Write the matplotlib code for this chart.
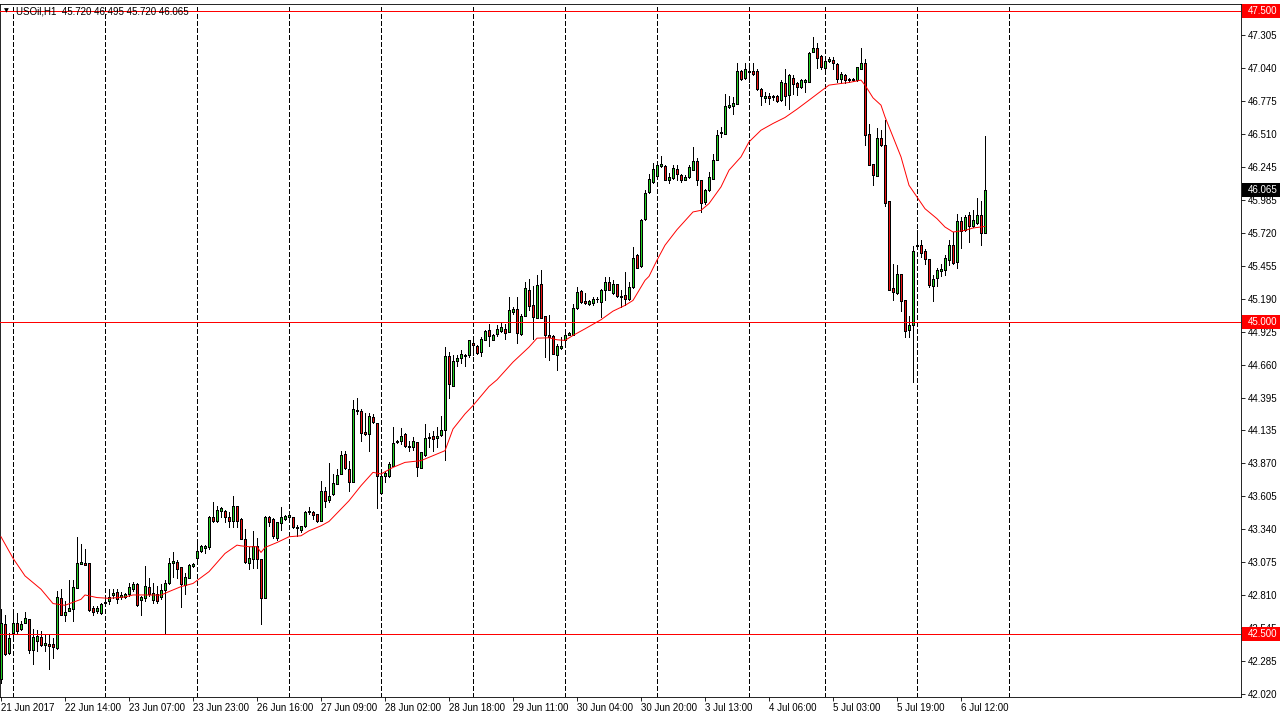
import matplotlib
matplotlib.use("Agg")
import matplotlib.pyplot as plt
from matplotlib.patches import Rectangle
from matplotlib.transforms import blended_transform_factory
import numpy as np

plt.rcParams['font.family'] = ['Liberation Sans', 'DejaVu Sans']

symbol = "USOil,H1"

opens = [
    42.135, 42.577, 42.344, 42.505, 42.591, 42.537, 42.591, 42.618, 42.368, 42.443,
    42.478, 42.410, 42.416, 42.416, 42.390, 42.786, 42.655, 42.685, 42.698, 42.872,
    43.065, 43.073, 43.068, 42.706, 42.685, 42.670, 42.746, 42.765, 42.813, 42.837,
    42.800, 42.797, 42.824, 42.864, 42.899, 42.770, 42.786, 42.877, 42.773, 42.824,
    42.797, 42.853, 42.912, 43.073, 43.080, 43.039, 42.890, 42.953, 43.044, 43.113,
    43.162, 43.191, 43.199, 43.440, 43.403, 43.489, 43.489, 43.435, 43.408, 43.524,
    43.422, 43.266, 43.073, 43.100, 43.207, 43.100, 42.787, 43.435, 43.422, 43.274,
    43.390, 43.422, 43.440, 43.435, 43.360, 43.336, 43.368, 43.480, 43.481, 43.462,
    43.408, 43.644, 43.577, 43.623, 43.703, 43.784, 43.944, 43.824, 43.722, 44.298,
    44.293, 44.118, 44.105, 44.244, 44.194, 43.628, 43.770, 43.770, 43.850, 44.040,
    44.052, 44.105, 44.006, 44.004, 44.044, 43.832, 43.939, 44.070, 44.092, 44.070,
    44.100, 44.137, 44.727, 44.488, 44.689, 44.716, 44.727, 44.735, 44.837, 44.815,
    44.762, 44.861, 44.936, 44.856, 44.904, 44.931, 44.944, 44.923, 45.083, 45.110,
    44.909, 45.051, 45.263, 45.142, 45.038, 45.306, 45.051, 44.896, 44.890, 44.740,
    44.794, 44.856, 44.901, 44.901, 45.118, 45.252, 45.172, 45.150, 45.158, 45.185,
    45.164, 45.263, 45.325, 45.236, 45.306, 45.212, 45.217, 45.190, 45.284, 45.539,
    45.453, 45.834, 46.047, 46.128, 46.176, 46.254, 46.256, 46.147, 46.163, 46.230,
    46.181, 46.147, 46.168, 46.227, 46.294, 46.147, 45.967, 46.061, 46.155, 46.307,
    46.522, 46.516, 46.730, 46.736, 46.757, 47.017, 46.966, 47.012, 47.017, 47.017,
    46.870, 46.800, 46.816, 46.806, 46.816, 46.784, 46.924, 46.824, 46.966, 46.924,
    46.891, 46.930, 46.932, 47.173, 47.200, 47.138, 47.039, 47.100, 47.106, 47.074,
    46.958, 46.985, 46.945, 46.950, 46.945, 47.033, 47.079, 46.511, 46.275, 46.176,
    46.484, 46.423, 45.972, 45.276, 45.238, 45.391, 45.177, 44.941, 44.976, 45.610,
    45.619, 45.573, 45.512, 45.292, 45.359, 45.412, 45.423, 45.498, 45.619, 45.485,
    45.814, 45.739, 45.860, 45.771, 45.800, 45.860, 45.720,
]

highs = [
    42.698, 42.652, 42.510, 42.658, 42.670, 42.604, 42.680, 42.620, 42.537, 42.530,
    42.520, 42.500, 42.490, 42.470, 42.845, 42.860, 42.765, 42.930, 42.930, 43.282,
    43.220, 43.180, 43.070, 42.725, 42.725, 42.750, 42.790, 42.860, 42.860, 42.860,
    42.840, 42.832, 42.912, 42.918, 42.912, 42.805, 43.046, 42.952, 42.912, 42.885,
    42.900, 42.930, 43.113, 43.160, 43.090, 43.040, 42.990, 43.060, 43.073, 43.226,
    43.210, 43.210, 43.448, 43.556, 43.530, 43.521, 43.497, 43.475, 43.609, 43.524,
    43.430, 43.340, 43.194, 43.328, 43.270, 43.100, 43.448, 43.448, 43.430, 43.400,
    43.520, 43.454, 43.462, 43.435, 43.376, 43.370, 43.489, 43.515, 43.489, 43.462,
    43.730, 43.682, 43.872, 43.780, 43.824, 43.971, 43.971, 43.891, 44.381, 44.395,
    44.306, 44.274, 44.274, 44.266, 44.194, 43.780, 43.810, 43.877, 44.159, 44.057,
    44.151, 44.110, 44.052, 44.084, 44.044, 43.960, 44.186, 44.110, 44.132, 44.159,
    44.252, 44.802, 44.762, 44.735, 44.735, 44.780, 44.748, 44.861, 44.856, 44.820,
    44.882, 44.936, 44.990, 44.909, 44.976, 44.995, 44.990, 45.204, 45.124, 45.204,
    45.070, 45.325, 45.351, 45.290, 45.378, 45.418, 45.051, 45.057, 44.896, 44.829,
    44.882, 44.949, 44.923, 45.151, 45.284, 45.263, 45.236, 45.177, 45.204, 45.204,
    45.271, 45.365, 45.365, 45.338, 45.311, 45.258, 45.405, 45.325, 45.606, 45.547,
    45.834, 46.067, 46.190, 46.281, 46.289, 46.334, 46.262, 46.200, 46.262, 46.262,
    46.190, 46.181, 46.262, 46.409, 46.321, 46.147, 46.074, 46.208, 46.356, 46.543,
    46.570, 46.833, 46.816, 46.811, 47.079, 47.025, 47.079, 47.039, 47.079, 47.031,
    46.878, 46.851, 46.838, 46.824, 46.824, 46.945, 47.031, 46.998, 46.985, 46.932,
    46.958, 46.958, 47.173, 47.293, 47.240, 47.146, 47.106, 47.133, 47.133, 47.079,
    47.012, 46.998, 46.966, 46.966, 47.052, 47.200, 47.111, 46.591, 46.275, 46.557,
    46.543, 46.629, 45.972, 45.471, 45.458, 45.391, 45.177, 45.048, 45.610, 45.745,
    45.659, 45.592, 45.512, 45.378, 45.439, 45.471, 45.539, 45.659, 45.726, 45.873,
    45.846, 45.860, 45.887, 45.900, 46.000, 45.972, 46.495,
]

lows = [
    42.108, 42.331, 42.340, 42.484, 42.497, 42.530, 42.590, 42.350, 42.260, 42.360,
    42.400, 42.360, 42.220, 42.310, 42.382, 42.650, 42.600, 42.685, 42.604, 42.870,
    43.060, 43.050, 42.685, 42.652, 42.670, 42.660, 42.725, 42.740, 42.786, 42.750,
    42.780, 42.786, 42.805, 42.845, 42.725, 42.650, 42.765, 42.805, 42.750, 42.750,
    42.780, 42.500, 42.900, 42.960, 42.950, 42.720, 42.820, 42.950, 43.040, 43.060,
    43.154, 43.146, 43.180, 43.400, 43.400, 43.440, 43.395, 43.355, 43.355, 43.355,
    43.260, 43.073, 43.020, 43.030, 43.030, 42.583, 42.787, 43.368, 43.274, 43.253,
    43.336, 43.416, 43.422, 43.347, 43.288, 43.315, 43.355, 43.462, 43.422, 43.395,
    43.403, 43.515, 43.560, 43.618, 43.703, 43.784, 43.824, 43.650, 43.720, 44.266,
    44.052, 44.100, 43.966, 44.191, 43.510, 43.620, 43.717, 43.762, 43.850, 44.030,
    44.025, 43.998, 43.971, 43.977, 43.765, 43.830, 43.930, 43.998, 43.971, 43.998,
    44.092, 43.896, 44.394, 44.488, 44.654, 44.673, 44.654, 44.722, 44.735, 44.748,
    44.727, 44.856, 44.815, 44.856, 44.891, 44.923, 44.869, 44.923, 45.070, 44.834,
    44.901, 45.050, 45.097, 44.864, 45.035, 45.035, 44.722, 44.695, 44.748, 44.622,
    44.789, 44.842, 44.896, 44.896, 45.110, 45.156, 45.145, 45.142, 45.142, 45.164,
    45.043, 45.177, 45.258, 45.231, 45.204, 45.124, 45.137, 45.182, 45.279, 45.437,
    45.445, 45.820, 46.040, 46.122, 46.168, 46.248, 46.141, 46.120, 46.155, 46.147,
    46.128, 46.141, 46.163, 46.222, 46.101, 45.887, 45.954, 46.053, 46.149, 46.302,
    46.490, 46.511, 46.725, 46.677, 46.752, 46.950, 46.958, 46.931, 46.985, 46.865,
    46.744, 46.771, 46.752, 46.784, 46.771, 46.779, 46.744, 46.712, 46.832, 46.824,
    46.878, 46.851, 46.930, 47.170, 47.039, 47.031, 47.031, 47.092, 47.031, 46.926,
    46.924, 46.924, 46.932, 46.940, 46.940, 47.033, 46.423, 46.260, 46.101, 46.176,
    46.420, 45.932, 45.260, 45.177, 45.230, 45.096, 44.887, 44.887, 44.520, 45.592,
    45.525, 45.471, 45.284, 45.171, 45.289, 45.370, 45.378, 45.458, 45.466, 45.439,
    45.600, 45.731, 45.645, 45.766, 45.793, 45.619, 45.720,
]

closes = [
    42.591, 42.336, 42.470, 42.585, 42.524, 42.577, 42.626, 42.371, 42.478, 42.484,
    42.409, 42.425, 42.400, 42.398, 42.797, 42.652, 42.676, 42.706, 42.877, 43.073,
    43.078, 43.057, 42.690, 42.680, 42.706, 42.738, 42.757, 42.800, 42.832, 42.784,
    42.813, 42.818, 42.877, 42.899, 42.730, 42.797, 42.883, 42.824, 42.826, 42.765,
    42.850, 42.907, 43.073, 43.086, 43.025, 42.899, 42.958, 43.055, 43.065, 43.167,
    43.207, 43.205, 43.440, 43.408, 43.497, 43.508, 43.435, 43.403, 43.524, 43.403,
    43.266, 43.079, 43.113, 43.207, 43.100, 42.792, 43.435, 43.395, 43.288, 43.400,
    43.435, 43.448, 43.456, 43.355, 43.347, 43.368, 43.480, 43.489, 43.456, 43.408,
    43.650, 43.564, 43.609, 43.711, 43.775, 43.939, 43.829, 43.717, 44.306, 44.287,
    44.113, 44.105, 44.247, 44.199, 43.770, 43.770, 43.789, 43.864, 44.033, 44.052,
    44.092, 44.006, 43.998, 44.052, 43.837, 43.958, 44.070, 44.084, 44.065, 44.092,
    44.140, 44.727, 44.507, 44.687, 44.716, 44.743, 44.740, 44.856, 44.820, 44.756,
    44.869, 44.930, 44.891, 44.896, 44.944, 44.963, 44.915, 45.097, 45.105, 44.915,
    45.051, 45.279, 45.129, 45.043, 45.298, 45.038, 44.896, 44.883, 44.748, 44.815,
    44.815, 44.901, 44.915, 45.118, 45.244, 45.164, 45.156, 45.169, 45.190, 45.190,
    45.258, 45.325, 45.263, 45.306, 45.212, 45.204, 45.190, 45.284, 45.520, 45.440,
    45.826, 46.043, 46.149, 46.235, 46.262, 46.270, 46.147, 46.168, 46.240, 46.190,
    46.147, 46.168, 46.248, 46.294, 46.147, 45.959, 46.061, 46.168, 46.307, 46.508,
    46.530, 46.736, 46.744, 46.763, 47.017, 46.958, 47.031, 47.017, 46.998, 46.870,
    46.816, 46.816, 46.798, 46.816, 46.779, 46.932, 46.819, 46.985, 46.913, 46.891,
    46.945, 46.945, 47.165, 47.200, 47.119, 47.047, 47.098, 47.111, 47.079, 46.953,
    46.993, 46.945, 46.956, 46.953, 47.047, 47.079, 46.503, 46.262, 46.181, 46.484,
    46.423, 45.959, 45.262, 45.244, 45.386, 45.171, 44.930, 44.976, 45.570, 45.624,
    45.557, 45.512, 45.297, 45.351, 45.423, 45.426, 45.520, 45.624, 45.480, 45.814,
    45.734, 45.846, 45.771, 45.820, 45.860, 45.718, 46.065,
]

# moving average (bar index, value)
ma_idx = [0, 3, 6, 10, 13, 16, 20, 21, 24, 27, 31, 33, 36, 40, 42, 45, 48, 52, 56, 59,
          60, 62, 64, 65, 66, 69, 72, 75, 77, 80, 82, 87, 90, 93, 95, 98, 101, 105, 108, 111,
          113, 116, 118, 122, 124, 128, 132, 134, 137, 139, 141, 143, 146, 150, 153, 156, 158, 161, 162, 164,
          166, 169, 173, 175, 177, 180, 182, 185, 187, 190, 193, 196, 199, 202, 205, 207, 210, 212, 215, 216,
          218, 220, 221, 223, 225, 227, 229, 231, 234, 236, 238, 241, 243, 246]
ma_val = [43.280, 43.108, 42.966, 42.859, 42.744, 42.730, 42.778, 42.813, 42.792, 42.786,
          42.797, 42.813, 42.813, 42.812, 42.840, 42.880, 42.905, 43.000, 43.146, 43.213,
          43.207, 43.200, 43.200, 43.154, 43.194, 43.234, 43.280, 43.288, 43.328, 43.368,
          43.403, 43.569, 43.690, 43.797, 43.784, 43.837, 43.877, 43.891, 43.931, 43.971,
          44.145, 44.266, 44.333, 44.486, 44.540, 44.682, 44.802, 44.874, 44.877, 44.861,
          44.856, 44.896, 44.949, 45.022, 45.091, 45.137, 45.177, 45.338, 45.370, 45.500,
          45.620, 45.745, 45.887, 45.900, 45.954, 46.088, 46.222, 46.329, 46.449, 46.543,
          46.597, 46.645, 46.712, 46.784, 46.857, 46.905, 46.918, 46.926, 46.945, 46.905,
          46.803, 46.744, 46.650, 46.490, 46.329, 46.101, 46.007, 45.913, 45.833, 45.766,
          45.726, 45.739, 45.758, 45.771]

date_idx = [0, 16, 32, 48, 64, 80, 96, 112, 128, 144, 160, 176, 192, 208, 224, 240]
date_labels = ["21 Jun 2017", "22 Jun 14:00", "23 Jun 07:00", "23 Jun 23:00",
               "26 Jun 16:00", "27 Jun 09:00", "28 Jun 02:00", "28 Jun 18:00",
               "29 Jun 11:00", "30 Jun 04:00", "30 Jun 20:00", "3 Jul 13:00",
               "4 Jul 06:00", "5 Jul 03:00", "5 Jul 19:00", "6 Jul 12:00"]
day_sep_idx = [3, 26, 49, 72, 95, 118, 141, 164, 187, 206, 229, 252]

price_ticks = [47.305, 47.040, 46.775, 46.510, 46.245, 45.985, 45.720, 45.455, 45.190,
               44.925, 44.660, 44.395, 44.135, 43.870, 43.605, 43.340, 43.075, 42.810,
               42.545, 42.285, 42.020]
hlines = [47.5, 45.0, 42.5]

# ---------------------------------------------------------------
W, H = 1280, 717
LW = 0.6
fig = plt.figure(figsize=(W / 100, H / 100), dpi=100)
fig.patch.set_facecolor('white')
ax = fig.add_axes([0, (H - 697) / H, 1241 / W, 693 / H])
ax.set_facecolor('white')

n = min(len(opens), len(highs), len(lows), len(closes))
o = np.array(opens[:n]); hi = np.array(highs[:n]); lo = np.array(lows[:n]); c = np.array(closes[:n])
hi = np.maximum(hi, np.maximum(o, c))
lo = np.minimum(lo, np.minimum(o, c))
xs = np.arange(n)

ax.set_xlim(-0.25, 310)
ax.set_ylim(41.994, 47.556)

for d in day_sep_idx:
    ax.axvline(d, color='black', lw=LW, ls=(0, (5, 3)), zorder=1, antialiased=False)

ax.vlines(xs, lo, hi, colors='black', linewidth=LW, zorder=3, antialiased=False)
up = c >= o
body_bottom = np.minimum(o, c)
body_h = np.abs(c - o)
body_col = np.where(up, '#22d022', '#ee1111')
ax.bar(xs, body_h, bottom=body_bottom, width=0.72, color=body_col, edgecolor='black',
       linewidth=0.5, zorder=4, antialiased=False)

for v in hlines:
    ax.axhline(v, color='#ff0000', lw=LW, zorder=5, antialiased=False)

ax.plot(ma_idx, ma_val, color='#ff0000', lw=0.7, zorder=6, antialiased=True)

# axes styling
for s in ax.spines.values():
    s.set_color('black')
    s.set_linewidth(LW)
ax.yaxis.tick_right()
ax.set_yticks(price_ticks)
ax.set_yticklabels([f"{v:.3f}" for v in price_ticks])
ax.tick_params(axis='y', direction='out', length=3, width=LW, pad=2, labelsize=7,
               colors='black', right=True, left=False)
ax.set_xticks(date_idx)
ax.set_xticklabels(date_labels, ha='left')
ax.tick_params(axis='x', direction='out', length=3, width=LW, pad=1.5, labelsize=7,
               colors='black')

# price label boxes on the right scale
bt = blended_transform_factory(fig.transFigure, ax.transData)
unit_px = 693 / (47.556 - 41.994)
box_h = 14 / unit_px
boxes = [(hlines[0], '#ff0000'), (hlines[1], '#ff0000'), (hlines[2], '#ff0000'), (closes[-1], '#000000')]
for v, col in boxes:
    fig.add_artist(Rectangle((1242 / W, v - box_h / 2), 38 / W, box_h, transform=bt,
                             facecolor=col, edgecolor='none', zorder=10, clip_on=False))
    fig.text(1248 / W, v, f"{v:.3f}", transform=bt, color='white', fontsize=7,
             va='center', ha='left', zorder=11)

# header
fig.text(4 / W, 1 - 11 / H, "\u25BC", fontsize=4.5, family='DejaVu Sans', va='center', ha='left')
fig.text(16 / W, 1 - 11 / H,
         f"{symbol}  {opens[-1]:.3f} {highs[-1]:.3f} {lows[-1]:.3f} {closes[-1]:.3f}",
         fontsize=7, va='center', ha='left', color='black')

fig.savefig('out.png', dpi=100)
